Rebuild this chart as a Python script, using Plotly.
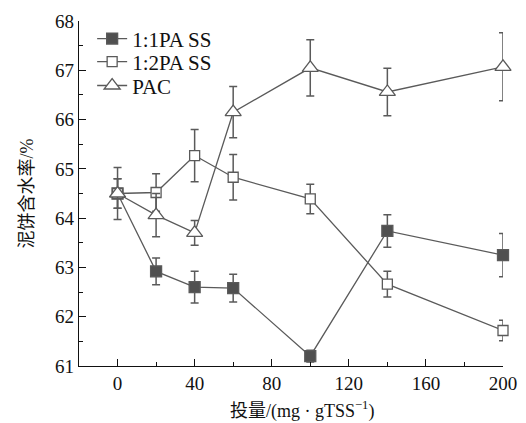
import plotly.graph_objects as go

dose = [0, 20, 40, 60, 100, 140, 200]

pa11 = [64.5, 62.92, 62.60, 62.58, 61.20, 63.74, 63.25]
pa11_err = [0.3, 0.27, 0.32, 0.28, 0.12, 0.33, 0.44]

pa12 = [64.5, 64.52, 65.27, 64.83, 64.39, 62.66, 61.72]
pa12_err = [0.3, 0.38, 0.53, 0.46, 0.30, 0.26, 0.21]

pac = [64.5, 64.06, 63.70, 66.15, 67.05, 66.56, 67.07]
pac_err = [0.53, 0.44, 0.25, 0.52, 0.57, 0.48, 0.69]

names = ["1:1PA SS", "1:2PA SS", "PAC"]
x_title = "投量/(mg · gTSS<sup>−1</sup>)"
y_title = "泥饼含水率/%"

LINE = "#5a5a5a"
DARK = "#505050"
FONT = "Liberation Serif, Times New Roman, Noto Sans CJK SC, serif"

fig = go.Figure()

def add(y, err, name, symbol, fill, size, legend):
    fig.add_trace(go.Scatter(
        x=dose, y=y, name=name, mode="lines+markers", legend=legend,
        cliponaxis=False,
        line=dict(color=LINE, width=1.3),
        marker=dict(symbol=symbol, size=size, color=fill,
                    line=dict(color=LINE, width=1.3)),
        error_y=dict(type="data", array=err, visible=True,
                     color=LINE, thickness=1.5, width=4),
    ))

add(pa11, pa11_err, names[0], "square", DARK, 11, "legend")
add(pa12, pa12_err, names[1], "square", "white", 10, "legend2")
add(pac, pac_err, names[2], "triangle-up", "white", 14, "legend3")

def leg(y):
    return dict(x=0.031, y=y, xanchor="left", yanchor="middle",
                bgcolor="rgba(0,0,0,0)", font=dict(size=21),
                itemwidth=30)

fig.update_layout(
    width=526, height=423,
    margin=dict(l=79, r=23, t=21, b=57, autoexpand=False),
    paper_bgcolor="white", plot_bgcolor="white",
    font=dict(family=FONT, size=19, color="#111"),
    showlegend=True,
    legend=leg(0.948),
    legend2=leg(0.881),
    legend3=leg(0.812),
    xaxis=dict(
        range=[-20, 200], tickvals=[0, 40, 80, 120, 160, 200],
        showgrid=False, zeroline=False, showline=True,
        linecolor="#111", linewidth=1.3, automargin=False,
        ticks="inside", ticklen=7, tickwidth=1.2, tickcolor="#111",
        minor=dict(tickvals=[20, 60, 100, 140, 180], ticks="inside",
                   ticklen=4, tickwidth=1.2, tickcolor="#111"),
        tickfont=dict(size=19),
    ),
    yaxis=dict(
        range=[61, 68], dtick=1,
        showgrid=False, zeroline=False, showline=True,
        linecolor="#111", linewidth=1.3, automargin=False,
        ticks="inside", ticklen=7, tickwidth=1.2, tickcolor="#111",
        minor=dict(dtick=0.5, ticks="inside", ticklen=4,
                   tickwidth=1.2, tickcolor="#111"),
        tickfont=dict(size=19),
    ),
    annotations=[
        dict(text=x_title, xref="paper", yref="paper", x=0.526, y=-0.128,
             xanchor="center", yanchor="middle", showarrow=False,
             font=dict(size=18)),
        dict(text=y_title, xref="paper", yref="paper", x=-0.125, y=0.5,
             xanchor="center", yanchor="middle", showarrow=False,
             textangle=-90, font=dict(size=18)),
    ],
)

fig.write_html("out.html", config={"displayModeBar": False},
               post_script="document.body.style.margin='0';")
